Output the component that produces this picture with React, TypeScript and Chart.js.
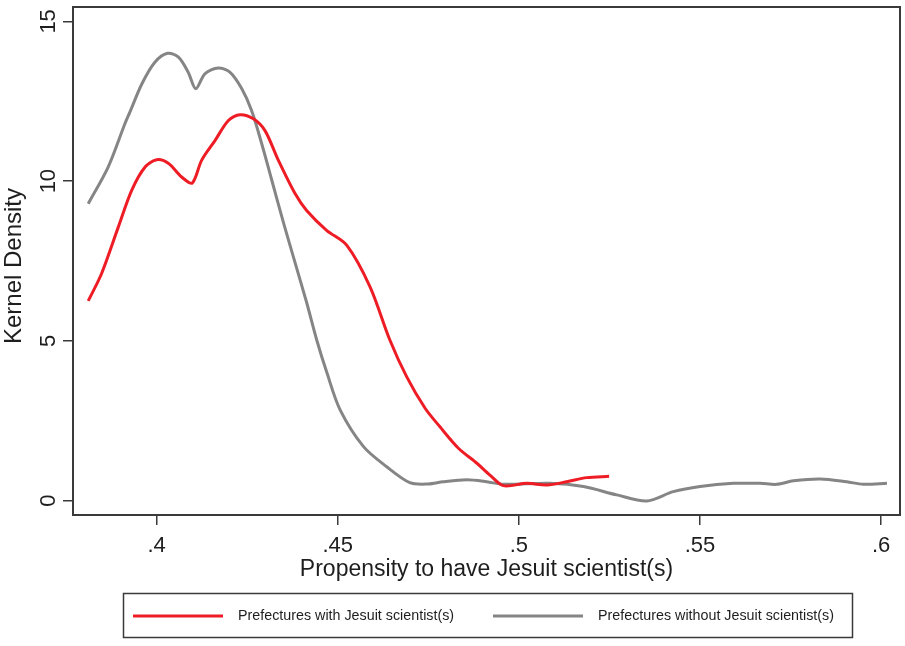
import React, { useEffect, useRef } from "react";
import { Chart, registerables } from "chart.js";

Chart.register(...registerables);

// ---- data ----
const withX = [0.3811, 0.3848, 0.3894, 0.3931, 0.3968, 0.4000, 0.4032, 0.4069, 0.4098, 0.4124, 0.4161, 0.4198, 0.4230, 0.4267, 0.4299, 0.4336, 0.4382, 0.4414, 0.4469, 0.4525, 0.4589, 0.4644, 0.4690, 0.4741, 0.4782, 0.4833, 0.4884, 0.4920, 0.4957, 0.5022, 0.5077, 0.5132, 0.5187, 0.5249];
const withY = [6.25, 7.11, 8.56, 9.71, 10.44, 10.67, 10.56, 10.13, 9.94, 10.65, 11.27, 11.90, 12.08, 11.95, 11.58, 10.65, 9.61, 9.08, 8.46, 7.99, 6.69, 5.02, 3.88, 2.89, 2.31, 1.64, 1.17, 0.80, 0.47, 0.54, 0.49, 0.59, 0.72, 0.76];

const withoutX = [0.3811, 0.3866, 0.3912, 0.3926, 0.3959, 0.3995, 0.4030, 0.4060, 0.4087, 0.4108, 0.4133, 0.4170, 0.4202, 0.4235, 0.4262, 0.4290, 0.4318, 0.4350, 0.4382, 0.4414, 0.4442, 0.4470, 0.4506, 0.4571, 0.4635, 0.4699, 0.4750, 0.4791, 0.4856, 0.4911, 0.4957, 0.5086, 0.5178, 0.5270, 0.5353, 0.5426, 0.5500, 0.5592, 0.5666, 0.5712, 0.5758, 0.5832, 0.5905, 0.5951, 0.6016];
const withoutY = [9.29, 10.44, 11.79, 12.16, 13.04, 13.72, 14.0, 13.88, 13.41, 12.89, 13.36, 13.54, 13.41, 12.89, 12.21, 11.17, 10.02, 8.7, 7.45, 6.2, 5.02, 4.0, 2.85, 1.69, 1.06, 0.56, 0.52, 0.59, 0.65, 0.59, 0.51, 0.54, 0.44, 0.18, -0.01, 0.28, 0.44, 0.54, 0.54, 0.51, 0.62, 0.68, 0.59, 0.51, 0.54];

const xTicks = [0.4, 0.45, 0.5, 0.55, 0.6];
const yTicks = [0, 5, 10, 15];
const seriesNames = ["Prefectures with Jesuit scientist(s)", "Prefectures without Jesuit scientist(s)"];
const xTitle = "Propensity to have Jesuit scientist(s)";
const yTitle = "Kernel Density";

const RED = "#ee1c25";
const GRAY = "#858585";
const INK = "#1e1e1e";
const AXIS = "#3a3a3a";
const FONT = "'Liberation Sans', Arial, sans-serif";

const fmt = (v: number) => String(v).replace(/^0(?=\.)/, "");

export default function App() {
  const ref = useRef<HTMLCanvasElement | null>(null);

  useEffect(() => {
    if (!ref.current) return;

    const extras = {
      id: "extras",
      afterDraw(chart: any) {
        const { ctx, chartArea, scales } = chart;
        const ys = scales.y;
        ctx.save();
        // frame
        ctx.strokeStyle = AXIS;
        ctx.lineWidth = 2;
        ctx.strokeRect(chartArea.left, chartArea.top, chartArea.right - chartArea.left, chartArea.bottom - chartArea.top);
        // rotated y tick labels
        ctx.fillStyle = INK;
        ctx.font = `22px ${FONT}`;
        ctx.textAlign = "center";
        ctx.textBaseline = "alphabetic";
        yTicks.forEach((v) => {
          const py = ys.getPixelForValue(v);
          ctx.save();
          ctx.translate(54.5, py);
          ctx.rotate(-Math.PI / 2);
          ctx.fillText(String(v), 0, 0);
          ctx.restore();
        });
        // y title
        ctx.save();
        ctx.font = `24px ${FONT}`;
        ctx.translate(20.5, 266);
        ctx.rotate(-Math.PI / 2);
        ctx.fillText(yTitle, 0, 0);
        ctx.restore();
        // legend
        ctx.lineWidth = 1.5;
        ctx.strokeStyle = AXIS;
        ctx.strokeRect(123.5, 593.5, 729, 44);
        const items = [
          { name: chart.data.datasets[0].label, color: chart.data.datasets[0].borderColor, x0: 133, x1: 223, tx: 238 },
          { name: chart.data.datasets[1].label, color: chart.data.datasets[1].borderColor, x0: 493, x1: 583, tx: 598 },
        ];
        ctx.font = `14.3px ${FONT}`;
        ctx.textAlign = "left";
        ctx.textBaseline = "middle";
        items.forEach((it) => {
          ctx.strokeStyle = it.color;
          ctx.lineWidth = 3;
          ctx.beginPath();
          ctx.moveTo(it.x0, 616);
          ctx.lineTo(it.x1, 616);
          ctx.stroke();
          ctx.fillStyle = INK;
          ctx.fillText(it.name, it.tx, 616.5);
        });
        ctx.restore();
      },
    };

    const chart = new Chart(ref.current, {
      type: "line",
      data: {
        datasets: [
          {
            label: seriesNames[0],
            data: withX.map((x, i) => ({ x, y: withY[i] })),
            borderColor: RED,
            borderWidth: 3,
            pointRadius: 0,
            tension: 0.3,
            fill: false,
          },
          {
            label: seriesNames[1],
            data: withoutX.map((x, i) => ({ x, y: withoutY[i] })),
            borderColor: GRAY,
            borderWidth: 3,
            pointRadius: 0,
            tension: 0.3,
            fill: false,
          },
        ],
      },
      options: {
        responsive: false,
        animation: false,
        devicePixelRatio: 1,
        layout: { padding: { top: 7, right: 5, left: 0, bottom: 0 } },
        plugins: { legend: { display: false }, tooltip: { enabled: false } },
        scales: {
          x: {
            type: "linear",
            min: 0.3769,
            max: 0.6052,
            afterBuildTicks: (s: any) => {
              s.ticks = xTicks.map((v) => ({ value: v }));
            },
            afterFit: (s: any) => {
              s.height = 131;
            },
            border: { display: false },
            grid: { drawOnChartArea: false, drawTicks: true, tickLength: 10, color: AXIS, lineWidth: 1.5 },
            ticks: {
              color: INK,
              font: { family: FONT, size: 22 },
              padding: 8,
              maxRotation: 0,
              autoSkip: false,
              callback: (v: any) => fmt(Number(v)),
            },
            title: {
              display: true,
              text: xTitle,
              color: INK,
              font: { family: FONT, size: 23, lineHeight: 1 },
              padding: { top: 0, bottom: 65 },
            },
          },
          y: {
            type: "linear",
            min: -0.45,
            max: 15.45,
            afterBuildTicks: (s: any) => {
              s.ticks = yTicks.map((v) => ({ value: v }));
            },
            afterFit: (s: any) => {
              s.width = 73;
            },
            border: { display: false },
            grid: { drawOnChartArea: false, drawTicks: true, tickLength: 10, color: AXIS, lineWidth: 1.5 },
            ticks: { display: false },
          },
        },
      },
      plugins: [extras],
    });
    return () => chart.destroy();
  }, []);

  return (
    <div style={{ position: "absolute", left: 0, top: 0, width: 905, height: 646, background: "#fff" }}>
      <canvas ref={ref} width={905} height={646} />
    </div>
  );
}
